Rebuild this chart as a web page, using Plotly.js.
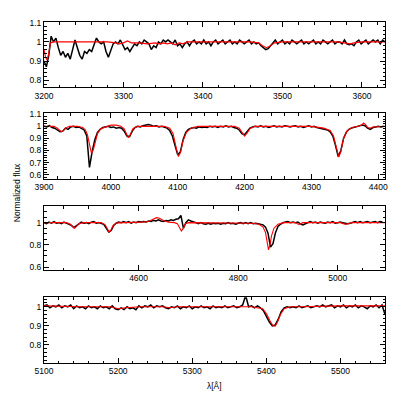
<!DOCTYPE html>
<html>
<head>
<meta charset="utf-8">
<script src="https://cdn.plot.ly/plotly-3.0.1.min.js"></script>
<style>html,body{margin:0;padding:0;background:#fff;}#chart{width:407px;height:407px;}</style>
</head>
<body>
<div id="chart"></div>
<script>
// ---------- Panel 1 (3200-3629 A) ----------
const obs1Start = 3200, obs1Step = 3;
const obs1Flux = [0.90,0.87,0.93,1.03,1.00,1.02,0.97,0.93,0.95,0.92,0.94,0.91,0.96,1.01,0.97,0.93,0.91,0.95,0.94,0.96,
0.95,0.99,1.02,1.00,0.99,1.00,0.95,0.92,0.96,0.99,1.00,0.99,1.01,0.98,0.96,0.97,0.95,0.97,0.99,0.98,
1.00,0.99,1.01,1.00,0.99,0.96,0.98,0.97,1.00,0.99,1.01,1.00,1.01,1.00,0.99,1.01,0.98,0.99,0.97,0.99,
1.00,0.98,1.00,1.01,0.99,1.00,0.99,1.01,0.99,1.00,0.98,1.00,1.01,0.99,1.00,1.01,0.99,1.00,1.01,0.99,
1.00,0.99,1.01,1.00,0.99,1.00,1.01,0.99,1.00,0.99,0.995,0.98,0.97,0.96,0.965,0.98,1.00,1.01,0.99,1.00,
1.01,0.99,1.00,0.99,1.01,1.00,0.99,1.00,1.01,0.99,1.00,0.99,1.00,1.01,0.99,1.00,0.99,1.01,1.00,0.99,
1.00,1.01,0.99,1.00,1.00,0.99,1.01,0.99,0.985,0.99,0.98,1.00,1.01,0.99,1.00,1.01,0.99,1.00,1.01,1.00,
1.01,0.99,1.01,1.00];
const mod1Wave = [3200,3202,3204,3206,3208,3212,3240,3280,3290,3295,3300,3305,3310,3320,3330,3340,3345,3350,3355,3360,3365,3370,3375,3380,3400,3460,3470,3475,3480,3485,3490,3500,3570,3580,3585,3590,3600,3629];
const mod1Flux = [0.96,0.92,0.905,0.94,0.995,1.0,1.0,1.0,0.995,0.99,0.995,1.005,0.995,0.995,0.99,0.995,0.99,0.995,0.99,0.995,0.985,0.995,0.99,1.0,1.0,1.0,0.995,0.98,0.97,0.98,0.995,1.0,1.0,0.995,0.99,0.995,1.0,1.0];

// ---------- Panel 2 (3900-4410 A) ----------
const obs2Start = 3900, obs2Step = 4;
const obs2Flux = [1.00,0.995,1.005,0.99,0.985,0.97,0.955,0.96,0.985,0.975,0.995,1.0,0.99,0.995,0.985,0.97,0.92,0.66,0.79,0.89,
0.95,0.975,0.99,0.995,1.0,0.99,0.995,0.985,0.99,0.985,0.96,0.92,0.915,0.96,0.99,1.0,0.995,1.005,1.01,1.015,
1.01,1.0,1.005,0.995,1.0,0.99,0.985,0.965,0.92,0.84,0.765,0.79,0.89,0.95,0.975,0.985,0.99,0.985,0.995,0.99,
0.995,0.99,1.0,0.995,1.0,0.99,1.0,0.995,1.005,0.995,1.0,0.99,0.985,0.97,0.94,0.93,0.955,0.985,0.995,1.0,
0.995,1.005,0.995,1.0,0.99,1.0,1.005,0.995,1.0,0.995,1.005,1.0,0.995,1.0,1.005,0.995,1.0,0.99,1.0,1.005,
0.995,1.0,0.99,0.985,0.98,0.975,0.97,0.955,0.92,0.84,0.75,0.80,0.90,0.95,0.975,0.985,0.99,0.995,1.0,1.01,
1.005,0.985,0.975,0.99,0.995,1.0,0.995,1.0];
const mod2Wave = [3900,3915,3920,3924,3926,3928,3932,3938,3950,3958,3962,3965,3968,3971,3974,3977,3980,3985,3992,4000,4008,4015,4020,4023,4026,4029,4033,4040,4080,4088,4093,4097,4101,4104,4108,4113,4120,4130,4185,4192,4196,4200,4204,4208,4215,4300,4318,4328,4333,4337,4341,4344,4348,4353,4360,4370,4375,4378,4381,4384,4388,4392,4400,4410];
const mod2Flux = [1.0,1.0,0.985,0.96,0.955,0.96,0.985,1.0,1.0,0.99,0.97,0.93,0.85,0.775,0.81,0.89,0.94,0.98,0.995,1.01,1.01,1.0,0.98,0.935,0.905,0.93,0.98,1.0,1.0,0.985,0.94,0.84,0.75,0.78,0.88,0.95,0.985,1.0,1.0,0.985,0.95,0.92,0.945,0.98,1.0,1.0,0.985,0.965,0.92,0.82,0.745,0.79,0.9,0.96,0.99,1.0,1.01,1.027,1.015,0.99,0.985,0.995,1.0,1.0];

// ---------- Panel 3 (4410-5095 A) ----------
const obs3Start = 4410, obs3Step = 5;
const obs3Flux = [1.0,0.99,1.005,0.995,1.01,0.995,1.0,0.99,1.005,0.995,0.99,0.975,0.955,0.97,0.99,1.005,0.995,1.0,0.99,1.005,
1.01,0.995,1.0,0.99,0.985,0.95,0.915,0.93,0.975,0.995,1.005,1.0,1.01,1.0,1.01,0.995,1.005,1.0,1.01,1.005,
1.01,1.005,1.015,1.01,1.02,1.015,1.025,1.015,1.01,1.02,1.015,1.025,1.02,1.03,1.035,1.065,0.95,1.0,1.025,1.015,
1.01,1.0,0.99,1.0,0.99,0.985,0.995,0.985,0.995,0.99,0.995,0.985,0.995,0.99,1.0,0.99,0.995,0.985,0.995,1.0,
0.99,1.0,0.99,1.0,0.99,0.995,0.99,0.985,0.98,0.96,0.905,0.78,0.81,0.91,0.965,0.985,1.0,1.005,1.01,1.0,
1.005,1.0,1.005,0.99,0.98,0.99,1.0,1.01,1.0,1.005,0.995,1.005,1.0,0.995,1.005,1.0,1.01,0.995,1.0,1.005,
1.0,0.995,0.99,0.995,1.0,1.01,1.0,1.01,1.0,1.005,1.01,1.0,1.005,1.01,1.0,1.01,1.005];
const mod3Wave = [4410,4455,4463,4468,4471,4474,4480,4490,4525,4533,4538,4541,4544,4549,4556,4590,4605,4620,4630,4636,4642,4650,4660,4672,4678,4682,4686,4690,4694,4700,4710,4830,4842,4850,4855,4858,4861,4864,4867,4872,4880,4892,4915,4919,4922,4925,4930,5005,5012,5016,5020,5028,5095];
const mod3Flux = [1.0,1.0,0.985,0.96,0.95,0.96,0.99,1.0,1.0,0.98,0.935,0.913,0.93,0.975,0.998,1.0,1.005,1.01,1.03,1.045,1.04,1.02,1.005,1.0,0.99,0.95,0.925,0.95,0.99,1.0,1.0,0.995,0.985,0.96,0.91,0.82,0.755,0.8,0.88,0.95,0.985,1.0,1.0,0.99,0.985,0.99,1.0,1.0,0.99,0.985,0.99,1.0,1.0];

// ---------- Panel 4 (5100-5560 A) ----------
const obs4Start = 5100, obs4Step = 4;
const obs4Flux = [1.005,1.01,0.995,1.005,1.0,1.01,0.995,1.005,1.0,1.01,0.99,1.005,0.995,1.0,0.99,1.005,0.995,1.0,0.99,1.005,
0.995,1.0,0.99,1.005,0.99,0.985,0.995,0.985,1.0,0.99,0.995,0.985,1.005,0.995,1.005,1.0,1.01,0.995,1.005,1.0,
1.005,0.995,0.99,1.0,0.995,1.005,0.99,1.0,0.995,1.005,0.99,1.0,0.995,1.005,0.995,1.0,0.99,1.005,0.995,1.0,
0.995,1.005,0.995,1.0,1.005,0.995,1.0,1.01,1.06,1.0,1.005,0.995,1.005,0.995,0.98,0.95,0.92,0.90,0.905,0.935,
0.975,0.995,1.0,0.995,1.0,0.995,1.005,0.995,1.0,1.005,0.995,1.0,1.005,1.0,1.01,1.0,1.005,1.01,0.995,1.005,
1.0,1.01,0.995,1.005,1.0,1.01,0.995,1.005,1.0,0.99,1.005,1.0,1.01,0.995,1.01,0.96];
const mod4Wave = [5100,5150,5190,5200,5210,5230,5260,5270,5280,5300,5380,5395,5400,5405,5409,5412,5415,5419,5424,5432,5445,5500,5560];
const mod4Flux = [1.005,1.0,1.0,0.99,0.995,1.0,1.0,0.995,1.0,1.0,1.0,0.99,0.965,0.925,0.9,0.898,0.92,0.96,0.99,1.0,1.0,1.005,1.005];

// ---------- axis settings ----------
const xRanges = [[3200,3629],[3900,4410],[4410,5095],[5100,5560]];
const yRanges = [[0.763,1.104],[0.564,1.108],[0.573,1.15],[0.705,1.05]];
const xDticks = [100,100,200,100];
const xMinor = [20,20,50,20];
const yDticks = [0.1,0.1,0.2,0.1];
const yMinor = [0.02,0.02,0.05,0.02];
const yDomains = [[0.8085,1.0],[0.5396,0.7323],[0.2727,0.4604],[0.0,0.1927]];

const obs = [[obs1Start,obs1Step,obs1Flux],[obs2Start,obs2Step,obs2Flux],[obs3Start,obs3Step,obs3Flux],[obs4Start,obs4Step,obs4Flux]];
const mods = [[mod1Wave,mod1Flux],[mod2Wave,mod2Flux],[mod3Wave,mod3Flux],[mod4Wave,mod4Flux]];

const font = {family:'Liberation Sans, Arial, sans-serif', size:8.5, color:'#000'};
const traces = [];
const layout = {
  width:407, height:407,
  margin:{l:44, r:22, t:22, b:44},
  paper_bgcolor:'#fff', plot_bgcolor:'#fff',
  showlegend:false,
  font:font,
  annotations:[
    {text:'Normalized flux', xref:'paper', yref:'paper', x:-0.08, y:0.5, showarrow:false, textangle:-90, xanchor:'center', yanchor:'middle', font:{family:font.family, size:8.5, color:'#000'}},
    {text:'λ[Å]', xref:'paper', yref:'paper', x:0.5, y:-0.068, showarrow:false, xanchor:'center', yanchor:'middle', font:{family:font.family, size:8.5, color:'#000'}}
  ]
};

function axisBase(){
  return {
    showline:true, mirror:'allticks', linecolor:'#000', linewidth:1,
    ticks:'inside', ticklen:5, tickwidth:1, tickcolor:'#000',
    showgrid:false, zeroline:false, tickfont:font, fixedrange:true
  };
}

for (let p=0; p<4; p++){
  const sfx = p===0 ? '' : String(p+1);
  const [st, step, fl] = obs[p];
  const wl = fl.map((_,i)=>st + i*step);
  traces.push({x:wl, y:fl, type:'scatter', mode:'lines', line:{color:'#000', width:1.5}, xaxis:'x'+sfx, yaxis:'y'+sfx, hoverinfo:'skip'});
  traces.push({x:mods[p][0], y:mods[p][1], type:'scatter', mode:'lines', line:{color:'#ff0000', width:1.1}, xaxis:'x'+sfx, yaxis:'y'+sfx, hoverinfo:'skip'});
  const xa = Object.assign(axisBase(), {range:xRanges[p], dtick:xDticks[p], tick0:0, anchor:'y'+sfx, domain:[0,1],
    minor:{ticks:'inside', ticklen:2.5, tickwidth:1, tickcolor:'#000', dtick:xMinor[p], tick0:0, showgrid:false}});
  const ya = Object.assign(axisBase(), {range:yRanges[p], dtick:yDticks[p], tick0:0, anchor:'x'+sfx, domain:yDomains[p],
    minor:{ticks:'inside', ticklen:2.5, tickwidth:1, tickcolor:'#000', dtick:yMinor[p], tick0:0, showgrid:false}});
  layout['xaxis'+sfx] = xa;
  layout['yaxis'+sfx] = ya;
}

Plotly.newPlot('chart', traces, layout, {staticPlot:true, displayModeBar:false});
</script>
</body>
</html>
